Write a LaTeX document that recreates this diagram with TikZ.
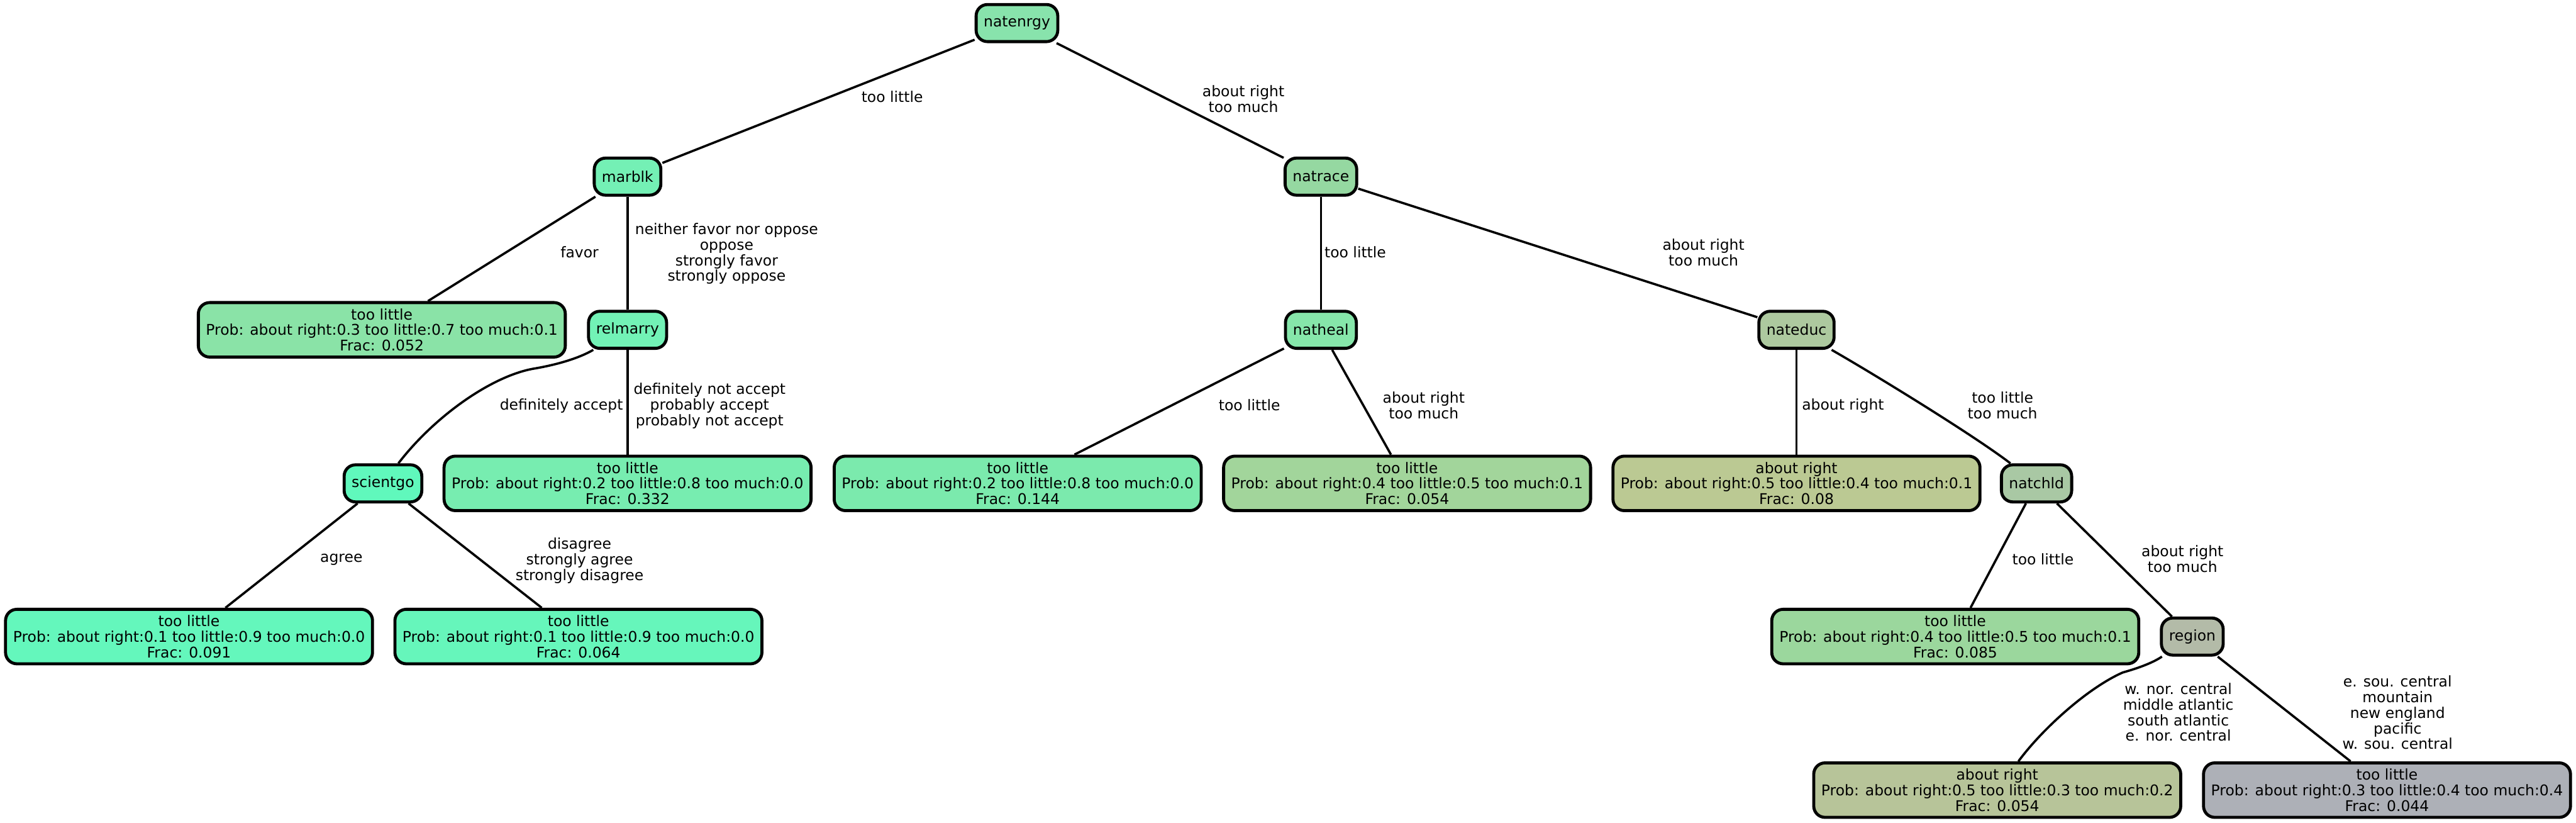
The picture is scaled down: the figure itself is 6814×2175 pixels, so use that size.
\documentclass[tikz,border=0pt]{standalone}
\usepackage{fontspec}
\setmainfont{DejaVu Sans}
\definecolor{cNatenrgy}{HTML}{88E3AC}
\definecolor{cMarblk}{HTML}{74F0B5}
\definecolor{cFavor}{HTML}{8AE3A7}
\definecolor{cRelmarry}{HTML}{72F2B6}
\definecolor{cScientgo}{HTML}{60F8BC}
\definecolor{cLeafA}{HTML}{64F7BC}
\definecolor{cLeafB}{HTML}{66F6BB}
\definecolor{cLeafC}{HTML}{77EDB0}
\definecolor{cNatrace}{HTML}{95D8A1}
\definecolor{cNatheal}{HTML}{86E6AA}
\definecolor{cLeafD}{HTML}{7BEAAD}
\definecolor{cLeafE}{HTML}{A2D59B}
\definecolor{cNateduc}{HTML}{ADC99F}
\definecolor{cLeafF}{HTML}{BBC993}
\definecolor{cNatchld}{HTML}{A9C8A4}
\definecolor{cRegion}{HTML}{B3BBA8}
\definecolor{cLeafG}{HTML}{9BD79D}
\definecolor{cLeafH}{HTML}{B7C499}
\definecolor{cLeafI}{HTML}{ADB0B7}
\begin{document}
\begin{tikzpicture}[x=0.01cm, y=-0.01cm,
  txt/.style={font=\fontsize{11.1}{11.7}\selectfont, align=center, text=black},
  inode/.style={txt, draw=black, line width=0.08cm, rounded corners=0.3cm,
    minimum height=0.98cm, inner xsep=0.2cm, inner ysep=0pt},
  leaf/.style={inode, minimum height=1.44cm},
  lbl/.style={txt, inner sep=0pt},
  edge/.style={draw=black, line width=0.06cm}]
\useasboundingbox (0,0) rectangle (6814,2175);

% internal nodes
\node[inode, fill=cNatenrgy] (natenrgy) at (2690,61) {natenrgy};
\node[inode, fill=cMarblk] (marblk) at (1660,467) {marblk};
\node[inode, fill=cNatrace] (natrace) at (3494,467) {natrace};
\node[inode, fill=cRelmarry] (relmarry) at (1660,872) {relmarry};
\node[inode, fill=cNatheal] (natheal) at (3494,872) {natheal};
\node[inode, fill=cNateduc] (nateduc) at (4752,872) {nateduc};
\node[inode, fill=cScientgo] (scientgo) at (1013,1278) {scientgo};
\node[inode, fill=cNatchld] (natchld) at (5387,1278) {natchld};
\node[inode, fill=cRegion] (region) at (5799,1683) {region};

% leaves
\node[leaf, fill=cFavor] (lfavor) at (1010,872) {too little\\Prob: about right:0.3 too little:0.7 too much:0.1\\Frac: 0.052};
\node[leaf, fill=cLeafC] (lrel) at (1660,1278) {too little\\Prob: about right:0.2 too little:0.8 too much:0.0\\Frac: 0.332};
\node[leaf, fill=cLeafA] (lagree) at (500,1683) {too little\\Prob: about right:0.1 too little:0.9 too much:0.0\\Frac: 0.091};
\node[leaf, fill=cLeafB] (ldisagree) at (1530,1683) {too little\\Prob: about right:0.1 too little:0.9 too much:0.0\\Frac: 0.064};
\node[leaf, fill=cLeafD] (lhealA) at (2692,1278) {too little\\Prob: about right:0.2 too little:0.8 too much:0.0\\Frac: 0.144};
\node[leaf, fill=cLeafE] (lhealB) at (3722,1278) {too little\\Prob: about right:0.4 too little:0.5 too much:0.1\\Frac: 0.054};
\node[leaf, fill=cLeafF] (leduc) at (4752,1278) {about right\\Prob: about right:0.5 too little:0.4 too much:0.1\\Frac: 0.08};
\node[leaf, fill=cLeafG] (lchld) at (5172,1683) {too little\\Prob: about right:0.4 too little:0.5 too much:0.1\\Frac: 0.085};
\node[leaf, fill=cLeafH] (lregA) at (5283,2089) {about right\\Prob: about right:0.5 too little:0.3 too much:0.2\\Frac: 0.054};
\node[leaf, fill=cLeafI] (lregB) at (6314,2089) {too little\\Prob: about right:0.3 too little:0.4 too much:0.4\\Frac: 0.044};

% edges
\draw[edge] (natenrgy) -- (marblk);
\draw[edge] (natenrgy) -- (natrace);
\draw[edge] (marblk) -- (lfavor);
\draw[edge] (marblk) -- (relmarry);
\draw[edge] (relmarry) .. controls (1530,948) and (1470,965) .. (1410,975)
  .. controls (1300,995) and (1150,1100) .. (scientgo);
\draw[edge] (relmarry) -- (lrel);
\draw[edge] (scientgo) -- (lagree);
\draw[edge] (scientgo) -- (ldisagree);
\draw[edge] (natrace) -- (natheal);
\draw[edge] (natrace) -- (nateduc);
\draw[edge] (natheal) -- (lhealA);
\draw[edge] (natheal) -- (lhealB);
\draw[edge] (nateduc) -- (leduc);
\draw[edge] (nateduc) .. controls (4950,985) and (5220,1150) .. (natchld);
\draw[edge] (natchld) -- (lchld);
\draw[edge] (natchld) -- (region);
\draw[edge] (region) .. controls (5690,1755) and (5650,1768) .. (5615,1778)
  .. controls (5520,1820) and (5400,1930) .. (lregA);
\draw[edge] (region) -- (lregB);

% edge labels
\node[lbl] (e1) at (2360,256) {too little};
\node[lbl] (e2) at (3289,261) {about right\\too much};
\node[lbl] (e3) at (1533,667) {favor};
\node[lbl] (e4) at (1922,671) {neither favor nor oppose\\oppose\\strongly favor\\strongly oppose};
\node[lbl] (e5) at (1485,1073) {definitely accept};
\node[lbl] (e6) at (1877,1073) {definitely not accept\\probably accept\\probably not accept};
\node[lbl] (e7) at (903,1480) {agree};
\node[lbl] (e8) at (1533,1482) {disagree\\strongly agree\\strongly disagree};
\node[lbl] (e9) at (3585,667) {too little};
\node[lbl] (e10) at (4506,667) {about right\\too much};
\node[lbl] (e11) at (3305,1071) {too little};
\node[lbl] (e12) at (3766,1072) {about right\\too much};
\node[lbl] (e13) at (4875,1073) {about right};
\node[lbl] (e14) at (5297,1072) {too little\\too much};
\node[lbl] (e15) at (5404,1479) {too little};
\node[lbl] (e16) at (5773,1478) {about right\\too much};
\node[lbl] (e17) at (5762,1883) {w. nor. central\\middle atlantic\\south atlantic\\e. nor. central};
\node[lbl] (e18) at (6342,1884) {e. sou. central\\mountain\\new england\\pacific\\w. sou. central};
\end{tikzpicture}
\end{document}
